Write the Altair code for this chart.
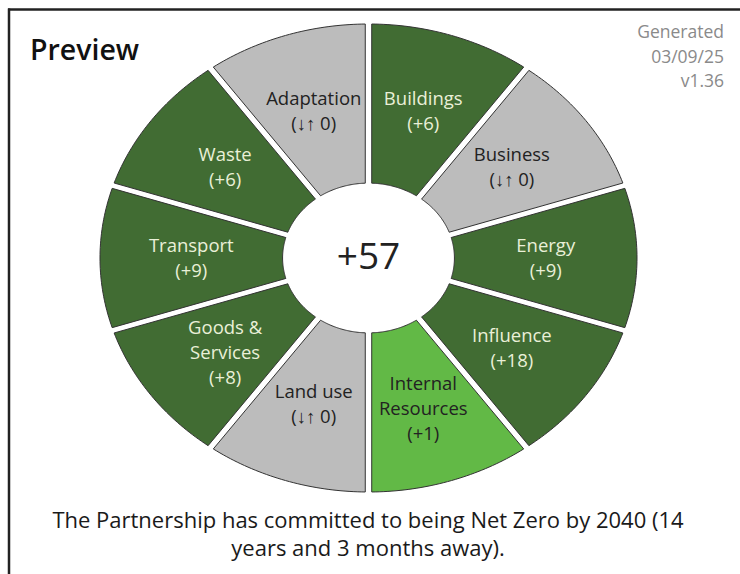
import altair as alt
import pandas as pd

# ---- data ----
categories = ["Buildings", "Business", "Energy", "Influence", "Internal\nResources",
              "Land use", "Goods &\nServices", "Transport", "Waste", "Adaptation"]
values = [6, 0, 9, 18, 1, 0, 8, 9, 6, 0]
status = ["high", "none", "high", "high", "low", "none", "high", "high", "high", "none"]
title_text = "Preview"
meta_text = "Generated\n03/09/25\nv1.36"
footer_text = "The Partnership has committed to being Net Zero by 2040 (14\nyears and 3 months away)."

total = sum(values)
center_text = f"+{total}"
value_labels = [f"(+{v})" if v > 0 else "(\u2193\u2191 0)" for v in values]

NSEG = len(categories)
NPTS = 40
INNER = 0.32
GAP = 0.012
LABEL_R = 0.66
LABEL_LH = 25

seg_df = pd.DataFrame({
    "i": list(range(NSEG)),
    "name": categories,
    "value": values,
    "status": status,
    "label": [f"{c}\n{v}" for c, v in zip(categories, value_labels)],
    "nlines": [c.count("\n") + 2 for c in categories],
})
k_df = pd.DataFrame({"k": list(range(2 * NPTS + 3))})
pts_df = seg_df.merge(k_df, how="cross")

W, H = 740, 574
CX, CY, RX, RY = 368.5, 258.0, 268.5, 234.0
xscale = alt.Scale(domain=[-CX / RX, (W - CX) / RX], range=[0, W], nice=False, zero=False)
yscale = alt.Scale(domain=[-(H - CY) / RY, CY / RY], range=[H, 0], nice=False, zero=False)

FONT = "Open Sans"
TWO_PI_N = f"(2*PI/{NSEG})"

segments = alt.Chart(pts_df).transform_calculate(
    kk=f"datum.k % {2 * NPTS + 2}",
).transform_calculate(
    outer=f"datum.kk <= {NPTS}",
).transform_calculate(
    r=f"datum.outer ? 1 : {INNER}",
).transform_calculate(
    pad=f"asin({GAP} / datum.r)",
    a0=f"datum.i * {TWO_PI_N}",
).transform_calculate(
    span=f"{TWO_PI_N} - 2*datum.pad",
    t=f"datum.outer ? datum.kk/{NPTS} : (datum.kk-{NPTS}-1)/{NPTS}",
).transform_calculate(
    a=f"datum.outer ? datum.a0 + datum.pad + datum.t*datum.span : datum.a0 + {TWO_PI_N} - datum.pad - datum.t*datum.span",
).transform_calculate(
    x="datum.r * sin(datum.a)",
    y="datum.r * cos(datum.a)",
).mark_line(filled=True, stroke="#333333", strokeWidth=1, interpolate="linear").encode(
    x=alt.X("x:Q", scale=xscale, axis=None),
    y=alt.Y("y:Q", scale=yscale, axis=None),
    order=alt.Order("k:Q"),
    detail="name:N",
    color=alt.Color("status:N",
                    scale=alt.Scale(domain=["high", "low", "none"],
                                    range=["#416c33", "#62b946", "#bcbcbc"]),
                    legend=None),
)

labels = alt.Chart(seg_df).transform_calculate(
    a=f"(datum.i + 0.5) * {TWO_PI_N}",
).transform_calculate(
    x=f"{LABEL_R} * sin(datum.a)",
    y=f"{LABEL_R} * cos(datum.a) + (datum.nlines - 1) / 2 * {LABEL_LH} / {RY} - (datum.nlines - 2) * 4 / {RY}",
    tcolor="datum.status == 'high' ? '#eaf0d8' : '#222222'",
).mark_text(lineBreak="\n", lineHeight=LABEL_LH, font=FONT, fontSize=18.5,
            align="center", baseline="middle").encode(
    x=alt.X("x:Q", scale=xscale, axis=None),
    y=alt.Y("y:Q", scale=yscale, axis=None),
    text="label:N",
    color=alt.Color("tcolor:N", scale=None),
)

center = alt.Chart(pd.DataFrame({"t": [center_text], "x": [0.0], "y": [0.0]})).mark_text(
    font=FONT, fontSize=37, color="#222222", align="center", baseline="middle"
).encode(
    x=alt.X("x:Q", scale=xscale, axis=None),
    y=alt.Y("y:Q", scale=yscale, axis=None),
    text="t:N",
)

title = alt.Chart(pd.DataFrame({"t": [title_text]})).mark_text(
    font=FONT, fontSize=28.5, fontWeight=600, color="#111111", align="left", baseline="alphabetic"
).encode(x=alt.value(30), y=alt.value(60), text="t:N")

meta = alt.Chart(pd.DataFrame({"t": [meta_text]})).mark_text(
    font=FONT, fontSize=17.5, color="#8a8a8a", align="right", baseline="alphabetic",
    lineBreak="\n", lineHeight=24.5
).encode(x=alt.value(724), y=alt.value(38), text="t:N")

footer = alt.Chart(pd.DataFrame({"t": [footer_text]})).mark_text(
    font=FONT, fontSize=22, color="#1a1a1a", align="center", baseline="alphabetic",
    lineBreak="\n", lineHeight=28
).encode(x=alt.value(368), y=alt.value(528), text="t:N")

frame_top = alt.Chart(pd.DataFrame({"d": [0]})).mark_rule(color="#222222", strokeWidth=2.5).encode(
    x=alt.value(8), x2=alt.value(W), y=alt.value(9.5))
frame_left = alt.Chart(pd.DataFrame({"d": [0]})).mark_rule(color="#222222", strokeWidth=2.5).encode(
    x=alt.value(9), y=alt.value(8.5), y2=alt.value(H))

chart = alt.layer(segments, labels, center, title, meta, footer, frame_top, frame_left).properties(
    width=W, height=H, padding=0, autosize=alt.AutoSizeParams(type="none"),
    background="white",
).configure_view(stroke=None)

chart.save("out.html", embed_options={"renderer": "svg", "actions": False})
